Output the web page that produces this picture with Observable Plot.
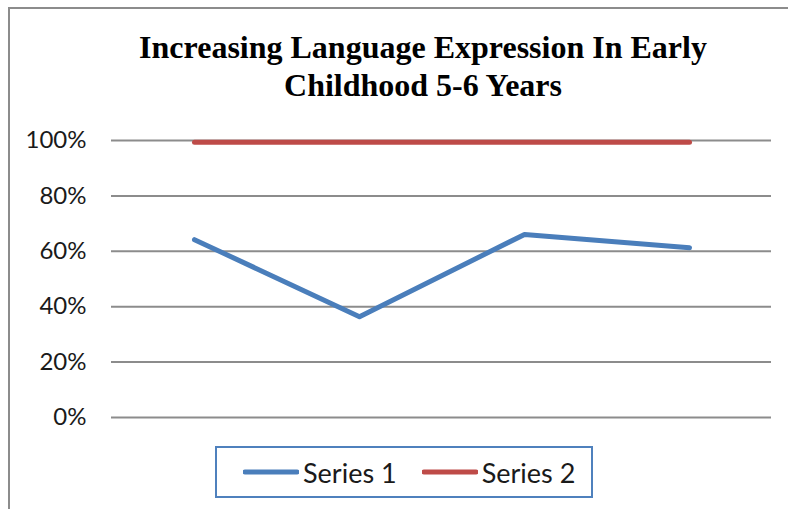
<!DOCTYPE html>
<html>
<head>
<meta charset="utf-8">
<script src="https://cdn.jsdelivr.net/npm/d3@7"></script>
<script src="https://cdn.jsdelivr.net/npm/@observablehq/plot@0.6"></script>
<style>
  html, body { margin: 0; padding: 0; background: #fff; overflow: hidden; width: 788px; height: 509px; }
  #frame { position: absolute; left: 8px; top: 7px; width: 900px; height: 600px; border: 2px solid #8c8c8c; }
  #title { position: absolute; left: 0; top: 28px; width: 846px; text-align: center;
           font: bold 32px "Liberation Serif", "Times New Roman", serif; line-height: 38px; color: #000; }
  #chart { position: absolute; left: 0; top: 120px; }
  #legend { position: absolute; left: 215px; top: 446px; width: 374px; height: 48px;
            border: 2px solid #4f81bd; display: flex; align-items: center; box-sizing: content-box;
            font: 27px Lato, "Open Sans", sans-serif; color: #1a1a1a; }
  #legend .item { display: flex; align-items: center; }
  #legend svg { display: block; }
  #legend span { margin-left: 4px; }
</style>
</head>
<body>
<div id="frame"></div>
<div id="title">Increasing Language Expression In Early<br>Childhood 5-6 Years</div>
<div id="chart"></div>
<div id="legend"></div>
<script>
// Four unlabeled measurement points along the x axis
const categories = ["1", "2", "3", "4"];
const seriesNames = ["Series 1", "Series 2"];
const seriesColors = ["#4a7ebb", "#be4b48"];
// Percentages
const series1 = [64.2, 36.4, 66.1, 61.3];
const series2 = [99.4, 99.4, 99.4, 99.4];
const yTicks = [0, 20, 40, 60, 80, 100];

const rows = [
  ...categories.map((c, i) => ({category: c, value: series1[i], series: seriesNames[0]})),
  ...categories.map((c, i) => ({category: c, value: series2[i], series: seriesNames[1]}))
];

const chart = Plot.plot({
  width: 788,
  height: 320,
  marginLeft: 111,
  marginRight: 17,
  marginTop: 20,
  marginBottom: 23,
  style: {fontFamily: "Lato, 'Open Sans', sans-serif", fontSize: "24px", color: "#1a1a1a", background: "transparent"},
  x: {type: "point", domain: categories, padding: 0.5, axis: null},
  y: {domain: [0, 100]},
  color: {domain: seriesNames, range: seriesColors},
  marks: [
    Plot.ruleY(yTicks, {stroke: "#8c8c8c", strokeWidth: 2}),
    Plot.axisY(yTicks, {tickSize: 0, tickPadding: 25, tickFormat: d => d + "%", label: null}),
    Plot.line(rows, {x: "category", y: "value", z: "series", stroke: "series",
                     strokeWidth: 5, strokeLinecap: "round", strokeLinejoin: "round"})
  ]
});
document.getElementById("chart").append(chart);

// Legend: a line swatch followed by the series name
const legend = d3.select("#legend").style("padding-left", "26px").style("width", "348px");
seriesNames.forEach((name, i) => {
  const item = legend.append("div").attr("class", "item").style("margin-left", i ? "25px" : "0px");
  const sw = item.append("svg").attr("width", 56).attr("height", 8);
  sw.append("line").attr("x1", 2).attr("x2", 54).attr("y1", 4).attr("y2", 4)
    .attr("stroke", seriesColors[i]).attr("stroke-width", 5).attr("stroke-linecap", "round");
  item.append("span").text(name);
});
</script>
</body>
</html>
